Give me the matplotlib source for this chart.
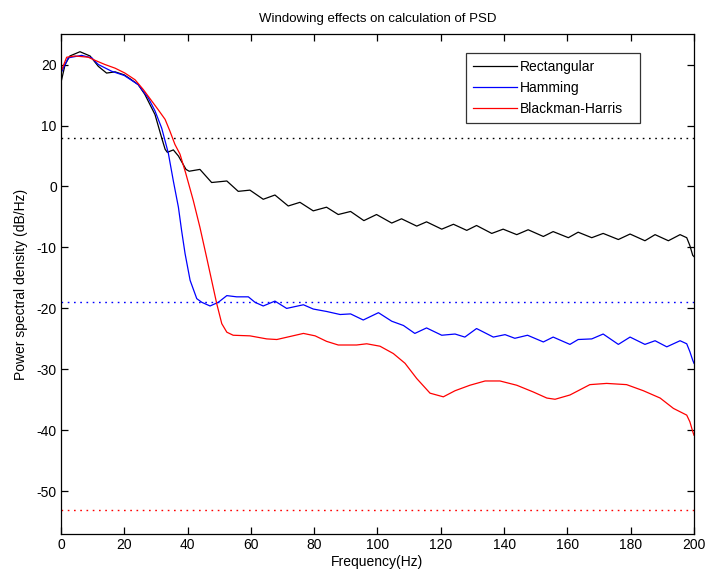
import matplotlib
matplotlib.use("Agg")
import matplotlib.pyplot as plt

plt.rcParams['font.family'] = ['Liberation Sans', 'DejaVu Sans']
plt.rcParams['axes.unicode_minus'] = False

# ---- data ----
rect_f = [0.2, 1.3, 2.8, 6.0, 9.2, 11.8, 14.4, 17.1, 20.0, 22.0, 24.4, 26.5, 29.7, 31.8, 32.9, 33.6,
          35.5, 37.1, 39.5, 40.5, 43.9, 47.6, 52.4, 56.0, 59.7, 63.9, 67.6, 71.8, 75.5, 79.7, 83.9,
          87.6, 91.5, 95.7, 99.7, 104.5, 107.6, 112.4, 115.5, 120.3, 124.0, 128.2, 131.3, 136.1,
          139.7, 144.0, 147.6, 152.4, 155.5, 160.3, 163.4, 167.7, 171.3, 176.1, 179.8, 184.5, 187.7,
          191.9, 195.6, 197.7, 198.7, 199.6, 200.0]
rect_v = [17.5, 20.0, 21.4, 22.1, 21.4, 19.7, 18.6, 18.8, 18.3, 17.6, 16.7, 15.1, 11.8, 8.0, 6.1, 5.6,
          6.0, 5.0, 2.8, 2.5, 2.8, 0.65, 0.9, -0.8, -0.6, -2.1, -1.4, -3.2, -2.6, -4.0, -3.4,
          -4.6, -4.1, -5.6, -4.6, -6.0, -5.3, -6.5, -5.8, -7.0, -6.2, -7.2, -6.4, -7.7,
          -7.0, -7.9, -7.1, -8.2, -7.4, -8.4, -7.5, -8.4, -7.7, -8.7, -7.8, -8.9, -7.9,
          -8.9, -7.9, -8.4, -9.7, -11.3, -11.5]

hamm_f = [0.3, 2.3, 6.5, 9.7, 11.8, 16.0, 20.0, 24.4, 27.6, 29.7, 31.8, 33.9, 35.5, 37.1, 38.1, 39.2,
          40.8, 42.9, 44.5, 47.1, 49.7, 52.4, 55.5, 59.2, 61.3, 63.9, 67.6, 71.3, 76.6, 79.7, 83.9,
          88.2, 91.5, 95.5, 100.3, 104.5, 108.2, 111.8, 115.5, 120.3, 124.5, 127.6, 131.3, 136.6,
          140.3, 143.4, 147.4, 152.4, 155.5, 160.8, 163.4, 167.7, 171.3, 176.1, 179.8, 184.5,
          187.7, 191.4, 195.6, 197.7, 198.7, 199.6, 200.0]
hamm_v = [18.9, 21.1, 21.5, 21.1, 20.0, 18.9, 18.2, 16.7, 14.5, 12.4, 9.6, 5.5, 0.9, -3.4, -7.2, -11.0,
          -15.4, -18.4, -19.0, -19.6, -19.0, -17.9, -18.1, -18.1, -19.0, -19.6, -18.8, -20.0, -19.4, -20.1, -20.5,
          -21.0, -20.9, -21.9, -20.7, -22.1, -22.8, -24.1, -23.2, -24.4, -24.2, -24.7, -23.3, -24.7,
          -24.3, -24.9, -24.4, -25.5, -24.7, -25.9, -25.1, -25.0, -24.2, -25.9, -24.7, -25.9,
          -25.3, -26.3, -25.3, -25.8, -27.1, -28.5, -29.0]

bh_f = [0.3, 1.8, 4.4, 8.6, 10.7, 13.9, 17.1, 20.2, 23.4, 26.0, 28.7, 30.7, 32.9, 34.4, 36.0, 37.6,
        39.4, 41.8, 43.9, 46.0, 47.6, 49.2, 50.8, 52.4, 54.4, 59.7, 65.0, 68.2, 72.4, 76.6, 80.3,
        83.9, 87.6, 93.4, 96.6, 100.8, 105.0, 108.7, 112.4, 116.6, 120.8, 124.5, 129.2, 134.0,
        138.7, 144.0, 149.2, 153.5, 156.1, 160.8, 167.1, 172.4, 178.7, 184.0, 189.3, 193.5,
        197.7, 198.7, 199.6, 200.0]
bh_v = [19.2, 21.2, 21.4, 21.2, 20.7, 20.0, 19.4, 18.6, 17.5, 15.9, 14.0, 12.6, 11.0, 9.1, 6.9, 5.3,
        2.2, -2.3, -6.7, -11.6, -15.4, -19.2, -22.5, -23.9, -24.4, -24.5, -25.0, -25.1, -24.6, -24.1, -24.5,
        -25.4, -26.0, -26.0, -25.8, -26.2, -27.4, -29.0, -31.5, -33.9, -34.5, -33.5, -32.6, -31.9,
        -31.9, -32.6, -33.7, -34.7, -34.9, -34.2, -32.5, -32.3, -32.5, -33.5, -34.7, -36.4,
        -37.5, -38.6, -40.2, -40.8]

series_names = ['Rectangular', 'Hamming', 'Blackman-Harris']
series_colors = ['#000000', '#0000ff', '#ff0000']
ref_levels = [8.0, -19.0, -53.0]

xticks = [0, 20, 40, 60, 80, 100, 120, 140, 160, 180, 200]
yticks = [-50, -40, -30, -20, -10, 0, 10, 20]

# ---- figure ----
fig = plt.figure(figsize=(7.05, 5.77), dpi=100)
ax = fig.add_axes([0.0865, 0.0745, 0.8979, 0.8665])

data = [(rect_f, rect_v), (hamm_f, hamm_v), (bh_f, bh_v)]
for (f, v), name, c in zip(data, series_names, series_colors):
    ax.plot(f, v, color=c, lw=0.9, label=name)
for lvl, c in zip(ref_levels, series_colors):
    ax.axhline(lvl, color=c, lw=1.0, linestyle=(0, (1.2, 3.3)))

ax.set_xlim(0, 200)
ax.set_ylim(-57, 25)
ax.set_xticks(xticks)
ax.set_yticks(yticks)
ax.tick_params(direction='in', top=True, right=True, length=5, width=0.9, labelsize=10, pad=3)
for s in ax.spines.values():
    s.set_linewidth(0.9)

ax.set_title('Windowing effects on calculation of PSD', fontsize=9.5, pad=9)
ax.set_xlabel('Frequency(Hz)', fontsize=10, labelpad=2)
ax.set_ylabel('Power spectral density (dB/Hz)', fontsize=10, labelpad=6)

leg = ax.legend(loc='upper left', bbox_to_anchor=(0.6398, 0.961, 0.2749, 0.001),
                mode='expand', borderaxespad=0,
                fancybox=False, frameon=True, edgecolor='black', fontsize=10,
                handlelength=3.2, handletextpad=0.2, labelspacing=0.5,
                borderpad=0.5)
leg.get_frame().set_linewidth(0.9)

fig.savefig('out.png', dpi=100)
